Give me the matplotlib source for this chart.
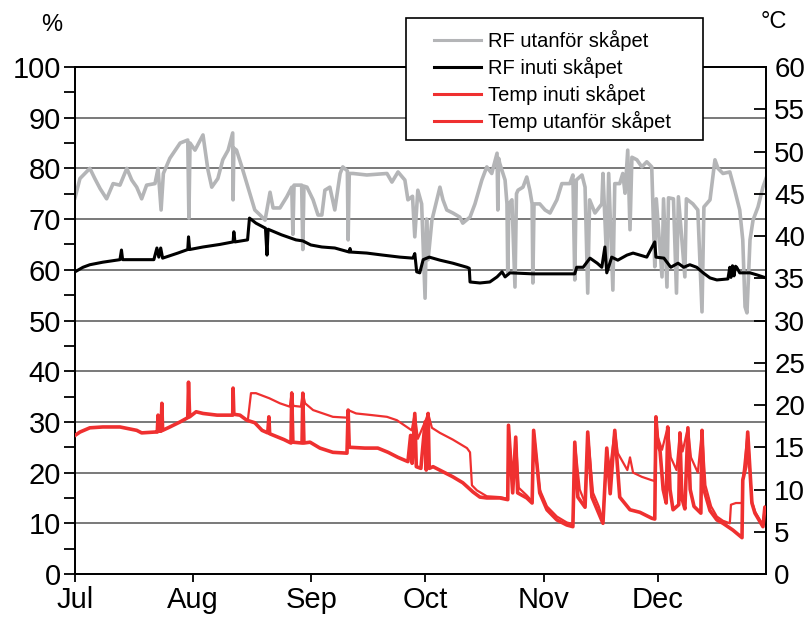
import numpy as np
import pandas as pd
import matplotlib
matplotlib.use("Agg")
import matplotlib.pyplot as plt
import matplotlib.dates as mdates
from matplotlib.patches import Rectangle

plt.rcParams['font.family'] = ['Liberation Sans', 'DejaVu Sans']

# ---------------- data (days after 1 July, values) ----------------
start_date = "2011-07-01"
end_day = 181.4

rf_out_day = [0, 1.3, 3.9, 5.2, 6.6, 8.3, 10, 11.8, 13.6, 14.9, 16.2, 17.5, 18.8, 21, 21.8, 22.6, 23.2,
              24.9, 27.6, 29.6, 29.9, 30.2, 31.5, 33.6, 34.9, 35.9, 37.5, 38.8, 40.2, 41.4, 41.5, 41.7,
              42.4, 43.8, 45.4, 47.2, 48.6, 49.9, 51.2, 52, 53.8, 55.6, 56.9, 57.2, 57.5, 59.5, 59.8,
              60.1, 60.9, 62.5, 63.8, 64.8, 65.6, 66.9, 68.2, 69.6, 70.3, 71.5, 71.7, 72, 73, 76.6,
              81.9, 83.2, 84.8, 86.6, 87.4, 88.6, 89.2, 90, 91, 91.9, 92.3, 92.7, 93.7, 95.8, 96.6,
              97.6, 99.2, 101, 101.8, 103.7, 105, 106.8, 108.1, 109.4, 110.8, 111, 111.2, 111.5,
              112.9, 113.4, 113.6, 113.9, 114.7, 115.5, 115.9, 116.3, 117.6, 118.6, 119.4, 120,
              120.2, 120.5, 122, 123.4, 124.7, 126.5, 127.8, 129.9, 130.7, 131.2, 131.6, 133.1,
              133.9, 134.6, 135.1, 136.5, 138.3, 138.6, 139.6, 140.1, 141.2, 141.7, 143, 143.8,
              144.4, 145.1, 145.7, 146.2, 147.5, 148.8, 150.1, 151.4, 152.2, 152.6, 154.1, 154.5,
              155.4, 155.8, 157.1, 157.9, 158.4, 160.1, 160.5, 162.2, 163.5, 164.6, 165.1, 166.7,
              168, 168.8, 170.1, 171.9, 173.2, 174.5, 175.3, 175.9, 176.4, 177.2, 178, 179.3,
              180.6, 181.4]
rf_out_val = [74.2, 78, 80, 78, 76, 74, 77, 76.7, 80, 77.7, 76.3, 74, 76.7, 77, 80, 71.8, 79,
              82, 85, 85.6, 70.2, 85, 83.6, 86.6, 79.7, 76.3, 78, 81.7, 83.6, 87, 73.8, 84,
              83.6, 80.3, 76.3, 71.8, 70.8, 69.8, 75.3, 72.2, 72.2, 74.4, 76.3, 67, 76.7, 76.7, 64,
              76.5, 76.3, 73.8, 70.8, 70.8, 75.7, 76.3, 71.8, 79, 80.3, 79.5, 65.9, 79, 79, 78.7,
              79, 77.3, 79.3, 77.7, 73.8, 74.5, 66.5, 75.7, 73, 54.4, 70, 62, 69.8, 76.3, 73.8,
              71.8, 71.2, 70.4, 69.2, 70.4, 73, 77.7, 80.3, 79, 83, 71.8, 82, 81,
              77.7, 73, 59.4, 73, 73.8, 56.6, 75, 75.7, 76.3, 78.3, 75.7, 73,
              57.4, 73, 73, 71.8, 71.2, 73.8, 77, 77, 78.7, 58, 77.7, 78.7,
              76.3, 55.4, 73.8, 71.2, 73, 79, 61.3, 79, 56, 77, 77, 79,
              75.1, 83.6, 67.9, 82.2, 81.7, 80.3, 81.3, 80.3, 60.6, 74, 58.6, 74,
              56.6, 74.2, 74, 55.4, 74.4, 58.6, 74, 73, 71.8, 51.7, 72.4, 73.8,
              81.7, 80, 79, 79.3, 75.7, 71.8, 65.9, 52.7, 51.5, 65.9, 69.8, 72.4,
              76.3, 78]

rf_in_day = [0, 2.1, 3.9, 7.3, 11.8, 12.2, 12.5, 20.7, 21.5, 22, 22.5, 23, 27, 29.6, 29.8, 30.1,
             33.6, 38, 41.5, 41.7, 42, 45.3, 45.8, 47.5, 50, 50.4, 50.7, 54.2, 58, 59.8, 61.9,
             64.8, 68.2, 72, 72.2, 72.4, 76.6, 80.8, 85.3, 88.7, 89.2, 89.7, 90.5, 91.4, 93,
             95.8, 99.2, 102.9, 103.5, 103.7, 106.3, 108.9, 110.8, 112.1, 112.9, 114.2, 120.2,
             124.7, 131.2, 131.7, 133.4, 135.2, 137.1, 138.3, 139.1, 139.6, 140.9, 142.5, 144.9,
             146.5, 150.1, 152.2, 152.5, 154.6, 156.4, 158.3, 159.8, 161.4, 163.2, 164.9, 166.7,
             168.5, 171.4, 171.9, 172.2, 172.6, 173.0, 173.4, 173.7, 174.5, 177.2, 179, 181.4]
rf_in_val = [59.6, 60.5, 61, 61.5, 62, 63.9, 62, 62, 64.3, 62.5, 64.3, 62.3, 63.3, 64, 66.5, 64,
             64.5, 65, 65.5, 67.5, 65.5, 65.9, 70.2, 69.2, 68.2, 62.9, 68, 66.9, 65.9, 65.7, 64.9,
             64.5, 64.3, 63.5, 64.2, 63.5, 63.3, 62.9, 62.5, 62.3, 63.2, 59.6, 59.4, 62, 62.5,
             61.9, 61.3, 60.5, 60.3, 57.6, 57.4, 57.6, 58.6, 59.6, 58.6, 59.4, 59.2,
             59.2, 59.2, 60.5, 60.5, 62.3, 61.3, 60.5, 64.5, 59.4, 62.5, 61.9, 62.9,
             63.3, 62.5, 65.5, 62.5, 62.3, 60.5, 61.3, 60.5, 61, 60.5, 59.4, 58.4,
             58, 58.2, 60.5, 58.5, 60.8, 58.8, 60.7, 60.5, 59.4, 59.4, 59, 58.4]

t_in_day = [45.4, 46.2, 47.5, 51, 53.8, 56.4, 56.9, 57.3, 59.3, 59.8, 60.4, 62.5, 65.1, 67.7,
            71.4, 71.7, 73.8, 78, 81.9, 84.5, 87.1, 88.4, 89.2, 90, 91.9, 92.7, 93.7, 95.8,
            99.2, 102.9, 103.7, 104.2, 105.5, 108.1, 111.5, 113.6, 113.8, 114.9, 115.7, 116.5,
            118.6, 120, 120.4, 122, 123.9, 126.5, 129.1, 130.7, 131.2, 132.5, 134, 134.6, 136,
            137.5, 138.6, 139.6, 140.4, 141.7, 142.5, 145, 145.7, 146.5, 148.8, 151.4, 152.2,
            152.5, 153, 154.1, 155.6, 156.4, 157.9, 158.8, 159.5, 160.9, 161.7, 163.5, 164.6,
            165.5, 167, 168.5, 170.1, 171.9, 172.2, 173.5, 175.1, 175.3, 176.6, 177.7, 178.5,
            179.8, 180.6, 181.1, 181.4]
t_in_val = [18.3, 21.4, 21.4, 20.8, 20.2, 19.8, 21.5, 19.9, 19.8, 21.4, 20.2, 19.4, 19, 18.6,
            18.5, 19.4, 19, 18.8, 18.6, 18.2, 17.4, 17, 19, 16, 18, 19, 17.3, 16.7,
            15.9, 14.9, 14.4, 10.5, 9.9, 9.2, 9.1, 8.9, 17.6, 10, 16.2, 10.2,
            9.3, 8.6, 17, 10, 8, 6.8, 6.1, 5.9, 15.6, 10, 8.3, 16.8, 9.6,
            8, 6.3, 14.9, 12.3, 17, 14.3, 12.3, 13.8, 12, 11.5, 11.1, 11,
            18.6, 16.2, 14.7, 17.4, 13.8, 12.3, 16.7, 14.5, 17.3, 13.8, 12, 17,
            10.5, 8, 6.8, 6.3, 6, 8.2, 8.4, 8.4, 11.1, 16.8, 8.6, 7.4,
            6.4, 5.8, 8, 7.6]

t_out_day = [0, 1.3, 3.9, 7.3, 11.8, 16.2, 17.5, 21, 21.6, 21.8, 22.1, 22.6, 22.8, 23.0, 24.9,
             27.6, 29.6, 29.8, 30.1, 31.8, 33.6, 37.3, 41.4, 41.5, 41.7, 43.3, 45.1, 47.2, 49.1,
             50.6, 50.9, 51.1, 53.3, 54.9, 56.7, 56.9, 57.2, 59.6, 59.8, 60.1, 61.7, 64.3, 67.7,
             71.4, 71.7, 72, 76.1, 79.5, 82.2, 84.8, 87.4, 88.1, 88.5, 89.2, 89.6, 90.8, 91.9,
             92.2, 92.7, 93, 94, 96.6, 99.2, 101.8, 104.5, 106.3, 108.1, 111.5, 113.6, 113.8,
             114.9, 115.7, 116.2, 118.6, 120, 120.4, 122, 123.9, 126.5, 129.1, 130.7, 131.2, 132,
             133.9, 134.6, 135.7, 137.1, 138.6, 139.6, 140.5, 141.7, 143, 145.7, 148.3, 151.4,
             152.2, 152.5, 153.0, 153.6, 154.4, 155.2, 155.6, 156.2, 157.0, 158.5, 158.8, 159.3,
             160.1, 160.9, 161.5, 162.5, 164.3, 164.6, 165.1, 166.7, 168.5, 170.1, 172.7, 175.1,
             175.3, 176.1, 176.6, 177.7, 178.5, 179.8, 180.6, 181.1, 181.4]
t_out_val = [16.4, 16.8, 17.3, 17.4, 17.4, 17, 16.7, 16.8, 16.8, 18.8, 16.9, 16.9, 20.2, 17, 17.4,
             18, 18.5, 22.7, 18.6, 19.2, 19, 18.8, 18.8, 22, 18.9, 18.8, 18.2, 17.9, 17,
             16.7, 18.6, 16.6, 16.2, 15.9, 15.5, 21.4, 15.6, 15.5, 21.4, 15.5, 15.6, 14.9, 14.4,
             14.3, 19.4, 15, 14.9, 14.9, 14.4, 13.8, 13.3, 16.4, 13.1, 19, 12.7, 12.5, 18,
             12.3, 19, 12.5, 12.7, 12.1, 11.5, 10.8, 9.7, 9.1, 9, 9, 8.8, 17.6,
             9.6, 16.2, 9.6, 9, 8.4, 17, 9.6, 7.6, 6.4, 5.8, 5.6, 15.6, 9.1,
             7.9, 16.8, 9.1, 7.6, 6, 14.9, 9.5, 17, 9.1, 7.6, 7.3, 6.6,
             6.5, 18.6, 15.5, 14.5, 10, 8.4, 17.4, 10, 7.6, 8.2, 16.7, 9,
             7.7, 17.3, 10, 8, 7.2, 17, 10, 7.5, 6.4, 6, 5.2, 4.3,
             11.1, 12.7, 16.8, 8.4, 7.2, 6.2, 5.6, 7.9, 7.5]

labels = ["RF utanför skåpet", "RF inuti skåpet", "Temp inuti skåpet", "Temp utanför skåpet"]

# ---------------- helpers ----------------
t0 = pd.Timestamp(start_date)
def to_dates(days):
    return t0 + pd.to_timedelta(np.asarray(days, dtype=float), unit="D")

GRAY = "#b4b5b7"
RED = "#ef3030"

fig = plt.figure(figsize=(8.09, 6.19), dpi=100)
ax = fig.add_axes([75/809, 1-574/619, (766-75)/809, (574-67)/619])
ax2 = ax.twinx()

# grid
for v in range(10, 100, 10):
    ax.axhline(v, color="#555555", lw=1.1, zorder=0.5)

l1, = ax.plot(to_dates(rf_out_day), rf_out_val, color=GRAY, lw=2.6, zorder=2)
l2, = ax.plot(to_dates(rf_in_day), rf_in_val, color="black", lw=2.2, zorder=3)
l3, = ax2.plot(to_dates(t_in_day), t_in_val, color=RED, lw=1.6, zorder=2)
l4, = ax2.plot(to_dates(t_out_day), t_out_val, color=RED, lw=2.6, zorder=3)

ax.set_xlim(t0, t0 + pd.Timedelta(days=end_day))
ax.set_ylim(0, 100)
ax2.set_ylim(0, 60)

ax.xaxis.set_major_locator(mdates.MonthLocator())
ax.xaxis.set_major_formatter(mdates.DateFormatter("%b"))
ax.set_yticks(np.arange(0, 101, 10))
ax.set_yticks(np.arange(5, 100, 10), minor=True)
ax2.set_yticks(np.arange(0, 61, 5))

ax.tick_params(axis="y", which="major", direction="out", length=8, width=1.3,
               labelsize=21, pad=2)
ax.tick_params(axis="x", which="major", direction="out", length=6, width=1.3,
               labelsize=21, pad=3)
ax.tick_params(axis="y", which="minor", direction="out", length=8, width=1.3)
ax2.tick_params(axis="y", which="major", direction="in", length=9, width=1.3,
                labelsize=20, pad=6)
for a in (ax, ax2):
    for s in a.spines.values():
        s.set_linewidth(1.3)

fig.text(52/809, 1-25/619, "%", fontsize=17, ha="center", va="center")
fig.text(774/809, 1-22/619, "°C", fontsize=17, ha="center", va="center")

# legend box
fig.patches.append(Rectangle((406/809, 1-140/619), (703-406)/809, (140-18)/619,
                             transform=fig.transFigure, facecolor="white",
                             edgecolor="black", lw=1.2, zorder=4))
fig.legend([l1, l2, l3, l4], labels, loc="upper left",
           bbox_to_anchor=(434/809, 1-30/619), frameon=False, fontsize=14.5,
           borderpad=0, borderaxespad=0, handlelength=2.35, handletextpad=0.35,
           labelspacing=0.3)
for h in fig.legends[0].get_lines():
    h.set_linewidth(2.2)

fig.savefig("out.png", dpi=100)
